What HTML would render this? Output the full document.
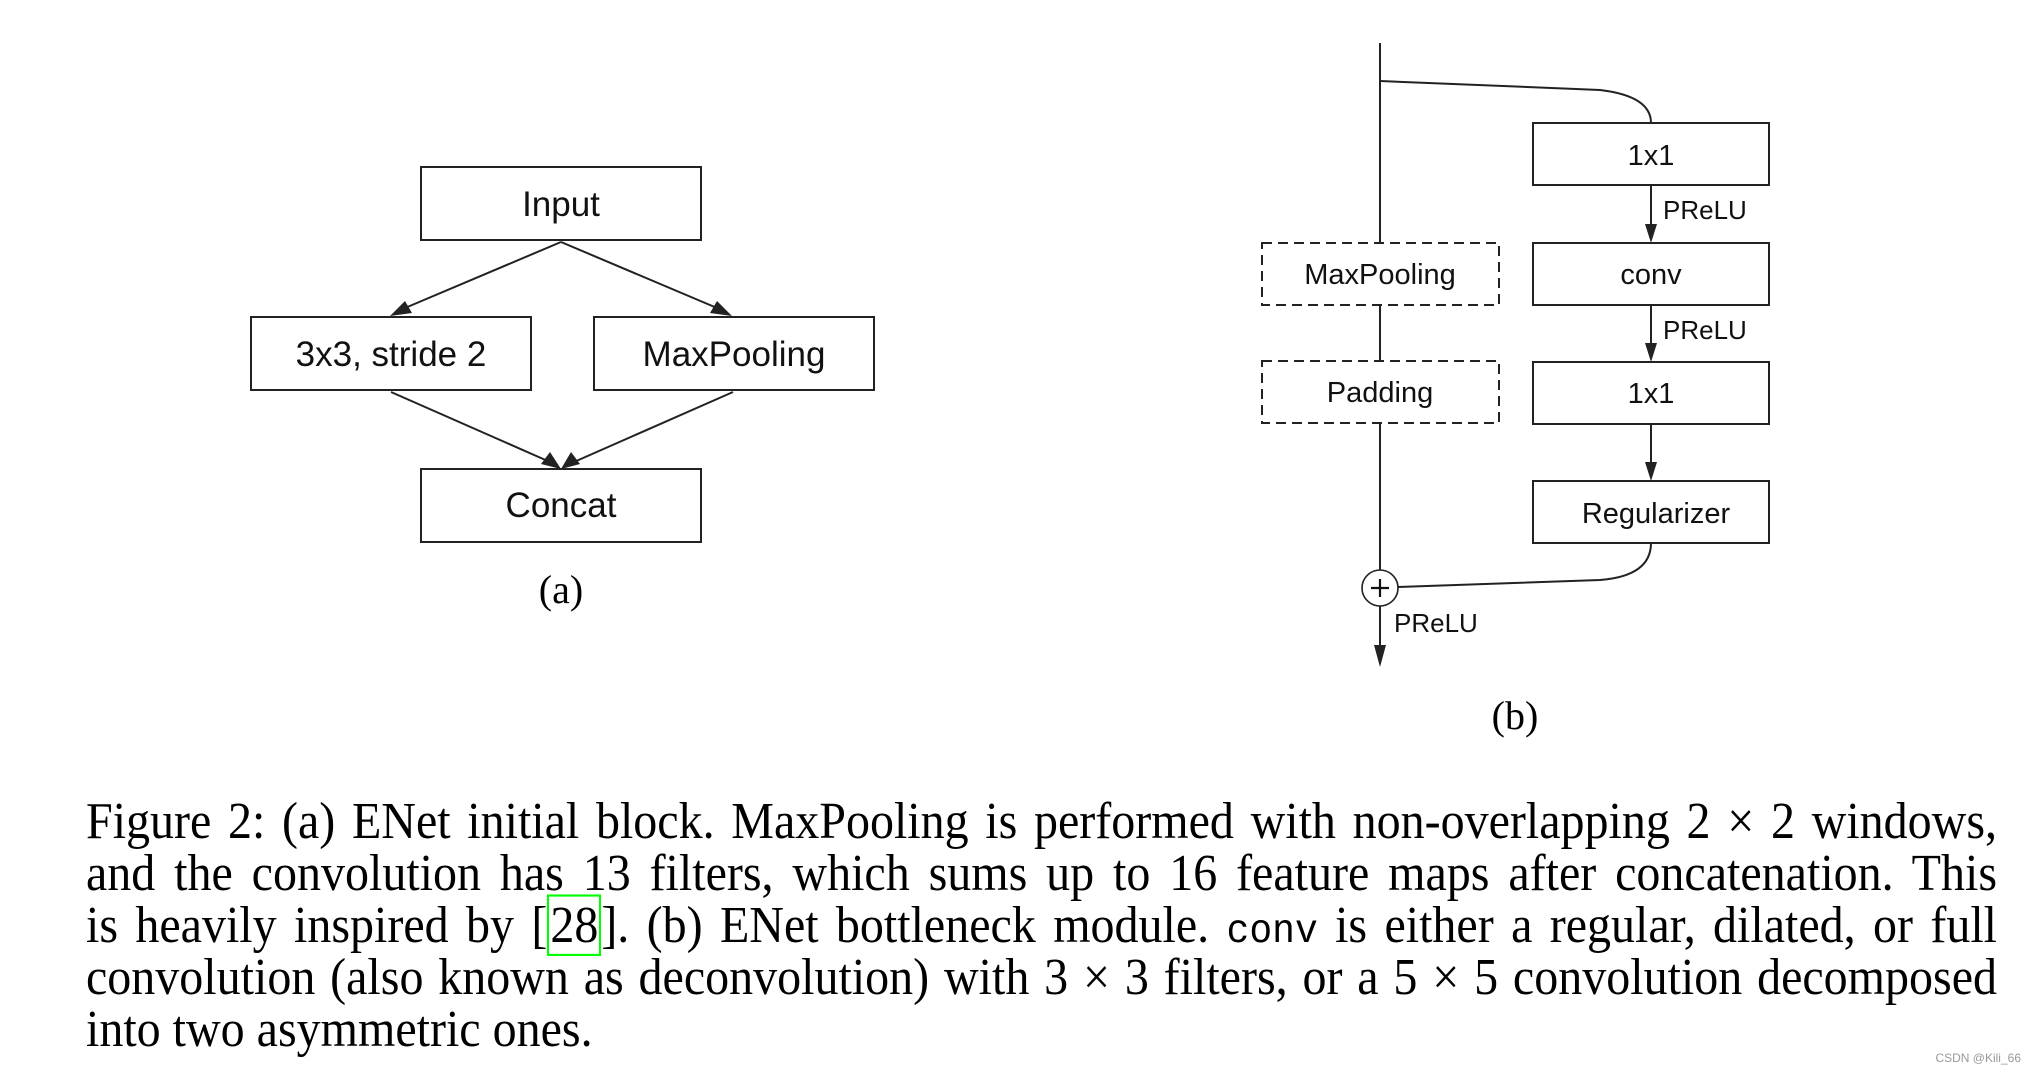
<!DOCTYPE html>
<html><head><meta charset="utf-8"><style>
html,body{margin:0;padding:0;background:#fff;}
body{width:2034px;height:1073px;position:relative;overflow:hidden;}
svg{position:absolute;left:0;top:0;}
.cap{position:absolute;left:86px;width:1911px;font-family:"Liberation Serif",serif;font-size:48px;line-height:52px;color:#000;white-space:nowrap;transform:scaleY(1.08);transform-origin:0 50%;}
.j{text-align:justify;text-align-last:justify;}
.tt{font-family:"Liberation Mono",monospace;font-size:38px;}
.ref{border:2px solid #00ff00;padding:0 1px;}
</style></head><body>
<svg width="2034" height="1073" viewBox="0 0 2034 1073">
<g fill="none" stroke="#222" stroke-width="2">
<rect x="421" y="167" width="280" height="73"/>
<rect x="251" y="317" width="280" height="73"/>
<rect x="594" y="317" width="280" height="73"/>
<rect x="421" y="469" width="280" height="73"/>
<line x1="561" y1="242" x2="405" y2="308"/>
<line x1="561" y1="242" x2="717" y2="308"/>
<line x1="391" y1="392" x2="550" y2="462"/>
<line x1="733" y1="392" x2="574" y2="462"/>
<line x1="1380" y1="43" x2="1380" y2="243"/>
<line x1="1380" y1="305" x2="1380" y2="361"/>
<line x1="1380" y1="423" x2="1380" y2="570"/>
<line x1="1380" y1="606" x2="1380" y2="650"/>
<path d="M1380 81 L1600 90 Q1651 96 1651 123"/>
<path d="M1398 587 L1600 580 Q1651 576 1651 543"/>
<circle cx="1380" cy="588" r="18" stroke-width="1.6"/>
<rect x="1533" y="123" width="236" height="62"/>
<rect x="1533" y="243" width="236" height="62"/>
<rect x="1533" y="362" width="236" height="62"/>
<rect x="1533" y="481" width="236" height="62"/>
<rect x="1262" y="243" width="237" height="62" stroke-dasharray="10,6"/>
<rect x="1262" y="361" width="237" height="62" stroke-dasharray="10,6"/>
<line x1="1651" y1="185" x2="1651" y2="228"/>
<line x1="1651" y1="305" x2="1651" y2="347"/>
<line x1="1651" y1="424" x2="1651" y2="466"/>
</g>
<g fill="#222">
<polygon points="390,316 405,301 412,313"/>
<polygon points="732,316 710,313 717,301"/>
<polygon points="561,469 541,464 550,452"/>
<polygon points="561,469 571,452 580,464"/>
<polygon points="1651,243 1645,224 1657,224"/>
<polygon points="1651,362 1645,343 1657,343"/>
<polygon points="1651,481 1645,462 1657,462"/>
<polygon points="1380,667 1374,645 1386,645"/>
</g>
<line x1="1371" y1="588" x2="1389" y2="588" stroke="#111" stroke-width="2.2"/>
<line x1="1380" y1="579" x2="1380" y2="597" stroke="#111" stroke-width="2.2"/>
<g font-family="Liberation Sans, sans-serif" fill="#111" text-anchor="middle">
<text x="561" y="216" font-size="35">Input</text>
<text x="391" y="366" font-size="35">3x3, stride 2</text>
<text x="734" y="366" font-size="35">MaxPooling</text>
<text x="561" y="517" font-size="35">Concat</text>
<text x="1651" y="165" font-size="29">1x1</text>
<text x="1651" y="284" font-size="29">conv</text>
<text x="1651" y="403" font-size="29">1x1</text>
<text x="1656" y="523" font-size="29">Regularizer</text>
<text x="1380" y="284" font-size="29">MaxPooling</text>
<text x="1380" y="402" font-size="29">Padding</text>
<g text-anchor="start" font-size="26">
<text x="1663" y="219">PReLU</text>
<text x="1663" y="339">PReLU</text>
<text x="1394" y="632">PReLU</text>
</g>
</g>
<g font-family="Liberation Serif, serif" fill="#000" text-anchor="middle" font-size="40">
<text x="561" y="603">(a)</text>
<text x="1515" y="729">(b)</text>
</g>
<text x="2021" y="1062" font-family="Liberation Sans, sans-serif" font-size="12" fill="#999" text-anchor="end">CSDN @Kili_66</text>
</svg>
<div class="cap j" style="top:796px">Figure 2: (a) ENet initial block. MaxPooling is performed with non-overlapping 2 × 2 windows,</div>
<div class="cap j" style="top:848px">and the convolution has 13 filters, which sums up to 16 feature maps after concatenation. This</div>
<div class="cap j" style="top:900px">is heavily inspired by [<span class="ref">28</span>]. (b) ENet bottleneck module. <span class="tt">conv</span> is either a regular, dilated, or full</div>
<div class="cap j" style="top:952px">convolution (also known as deconvolution) with 3 × 3 filters, or a 5 × 5 convolution decomposed</div>
<div class="cap" style="top:1004px">into two asymmetric ones.</div>
</body></html>
